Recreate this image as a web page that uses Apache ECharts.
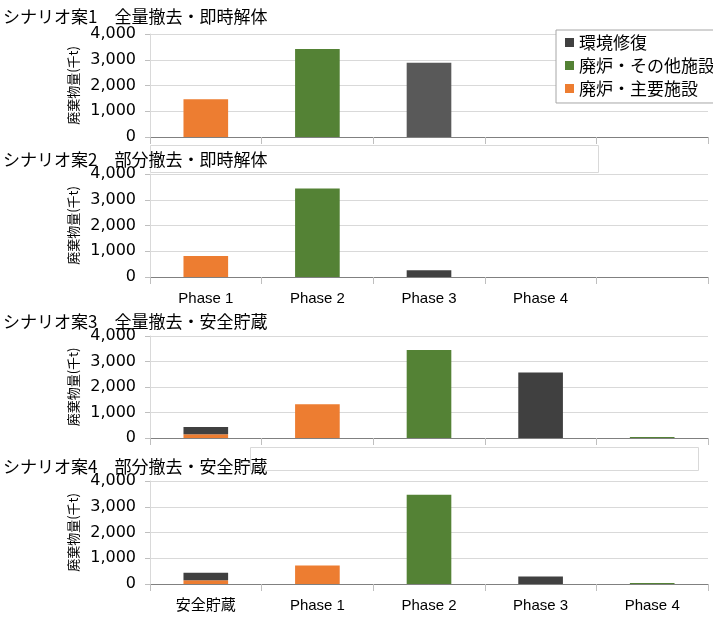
<!DOCTYPE html>
<html>
<head>
<meta charset="UTF-8">
<title>廃棄物量</title>
<script src="https://cdn.jsdelivr.net/npm/echarts@6/dist/echarts.min.js"></script>
<style>
  html, body { margin: 0; padding: 0; background: #fff; }
  #main { width: 713px; height: 619px; }
</style>
</head>
<body>
<div id="main"></div>
<script>
// categories
var catsA = ['Phase 1', 'Phase 2', 'Phase 3', 'Phase 4', ''];
var catsB = ['安全貯蔵', 'Phase 1', 'Phase 2', 'Phase 3', 'Phase 4'];
var yTicks = [0, 1000, 2000, 3000, 4000];

var titles = [
  'シナリオ案1　全量撤去・即時解体',
  'シナリオ案2　部分撤去・即時解体',
  'シナリオ案3　全量撤去・安全貯蔵',
  'シナリオ案4　部分撤去・安全貯蔵'
];
var seriesNames = ['環境修復', '廃炉・その他施設', '廃炉・主要施設'];

// 廃炉・主要施設 (orange)
var main1 = [1470, 0, 0, 0, 0];
var main2 = [820, 0, 0, 0, 0];
var main3 = [150, 1320, 0, 0, 0];
var main4 = [150, 720, 0, 0, 0];
// 廃炉・その他施設 (green)
var other1 = [0, 3420, 0, 0, 0];
var other2 = [0, 3440, 0, 0, 0];
var other3 = [0, 0, 3450, 0, 40];
var other4 = [0, 0, 3470, 0, 40];
// 環境修復 (dark)
var env1 = [0, 0, 2880, 0, 0];
var env2 = [0, 0, 260, 0, 0];
var env3 = [280, 0, 0, 2570, 0];
var env4 = [290, 0, 0, 290, 0];

var chart = echarts.init(document.getElementById('main'));

var grids = [
  { left: 150, width: 558, top: 34, height: 103 },
  { left: 150, width: 558, top: 174, height: 103 },
  { left: 150, width: 558, top: 336, height: 102 },
  { left: 150, width: 558, top: 481, height: 103 }
];
var titleTops = [8, 151, 313, 458];
var cats = [catsA, catsA, catsB, catsB];
var showLabels = [false, true, false, true];
var mains = [main1, main2, main3, main4];
var others = [other1, other2, other3, other4];
var envs = [env1, env2, env3, env4];
var envColors = ['#595959', '#404040', '#404040', '#404040'];

var xAxes = [], yAxes = [], series = [], titleList = [];
for (var i = 0; i < 4; i++) {
  titleList.push({
    text: titles[i],
    left: 3,
    top: titleTops[i],
    padding: 0,
    z: 20,
    textStyle: { fontFamily: 'Noto Sans CJK JP', fontSize: 17, fontWeight: 'normal', color: '#000' }
  });
  xAxes.push({
    type: 'category',
    gridIndex: i,
    data: cats[i],
    axisLine: { lineStyle: { color: '#808080' } },
    axisTick: { show: true, length: 7, lineStyle: { color: '#bfbfbf' } },
    axisLabel: {
      show: showLabels[i],
      margin: 14,
      fontSize: 15,
      color: '#000',
      fontFamily: 'Liberation Sans, Noto Sans CJK JP'
    }
  });
  yAxes.push({
    type: 'value',
    gridIndex: i,
    min: 0,
    max: 4000,
    interval: 1000,
    name: '廃棄物量(千t)',
    nameLocation: 'middle',
    nameGap: 67,
    nameTextStyle: { fontFamily: 'Noto Sans CJK JP', fontSize: 13, color: '#000' },
    axisLine: { show: true, lineStyle: { color: '#d9d9d9' } },
    axisTick: { show: true, length: 5, lineStyle: { color: '#bfbfbf' } },
    splitLine: { lineStyle: { color: '#d9d9d9' } },
    axisLabel: {
      margin: 14,
      fontSize: 16,
      color: '#000',
      fontFamily: 'DejaVu Sans',
      formatter: function (v) { return v.toLocaleString('en-US'); }
    }
  });
  var stack = 'g' + i;
  series.push({
    name: seriesNames[2], type: 'bar', stack: stack, xAxisIndex: i, yAxisIndex: i,
    barWidth: '40%', data: mains[i], itemStyle: { color: '#ed7d31' }
  });
  series.push({
    name: seriesNames[1], type: 'bar', stack: stack, xAxisIndex: i, yAxisIndex: i,
    barWidth: '40%', data: others[i], itemStyle: { color: '#548235' }
  });
  series.push({
    name: seriesNames[0], type: 'bar', stack: stack, xAxisIndex: i, yAxisIndex: i,
    barWidth: '40%', data: envs[i], itemStyle: { color: envColors[i] }
  });
}

var option = {
  animation: false,
  backgroundColor: '#fff',
  title: titleList,
  grid: grids,
  xAxis: xAxes,
  yAxis: yAxes,
  legend: {
    orient: 'vertical',
    left: 556,
    top: 30,
    z: 30,
    padding: [4, 10, 6, 9],
    itemGap: 6,
    itemWidth: 9,
    itemHeight: 9,
    icon: 'rect',
    backgroundColor: '#fff',
    borderColor: '#a6a6a6',
    borderWidth: 1,
    textStyle: { fontFamily: 'Noto Sans CJK JP', fontSize: 17, color: '#000' },
    data: [
      { name: seriesNames[0], itemStyle: { color: '#404040' } },
      { name: seriesNames[1], itemStyle: { color: '#548235' } },
      { name: seriesNames[2], itemStyle: { color: '#ed7d31' } }
    ]
  },
  // white boxes left over from the pasted panels
  graphic: [
    { type: 'rect', left: 150, top: 145, z: 10, shape: { width: 448, height: 27 },
      style: { fill: '#fff', stroke: '#d9d9d9', lineWidth: 1 } },
    { type: 'rect', left: 250, top: 447, z: 10, shape: { width: 448, height: 23 },
      style: { fill: '#fff', stroke: '#d9d9d9', lineWidth: 1 } }
  ],
  series: series
};

chart.setOption(option);
</script>
</body>
</html>
